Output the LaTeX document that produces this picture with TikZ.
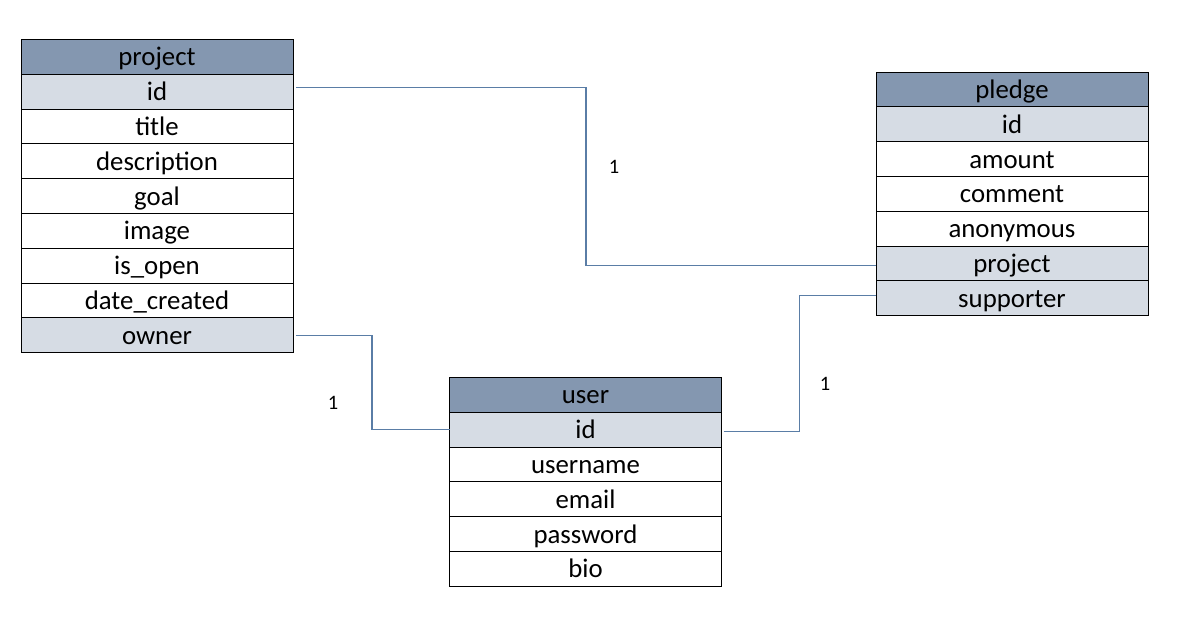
\documentclass[tikz,border=0pt]{standalone}
\usepackage{fontspec}
\setmainfont{Carlito}
\usetikzlibrary{positioning}
\definecolor{hdrfill}{HTML}{8497B0}
\definecolor{keyfill}{HTML}{D6DCE4}
\definecolor{connc}{HTML}{5A7DA6}
\tikzset{
  cell/.style={draw=black, line width=0.9pt, minimum width=272pt, minimum height=34.8pt,
    inner sep=0pt, outer sep=0pt, font=\fontsize{26.8}{27}\selectfont, anchor=north,
    text height=21pt, text depth=3pt},
  hdr/.style={cell, fill=hdrfill},
  keyrow/.style={cell, fill=keyfill},
  plain/.style={cell, fill=white},
  conn/.style={draw=connc, line width=1.1pt},
  card/.style={font=\fontsize{20.5}{21}\selectfont, inner sep=0pt}
}
\begin{document}
\begin{tikzpicture}[x=1pt,y=-1pt]
\useasboundingbox (0,0) rectangle (1192,625);
% project table
\node[hdr] (pj0) at (157,39.5) {project};
\node[keyrow, below=0pt of pj0] (pj1) {id};
\node[plain, below=0pt of pj1] (pj2) {title};
\node[plain, below=0pt of pj2] (pj3) {description};
\node[plain, below=0pt of pj3] (pj4) {goal};
\node[plain, below=0pt of pj4] (pj5) {image};
\node[plain, below=0pt of pj5] (pj6) {is\_open};
\node[plain, below=0pt of pj6] (pj7) {date\_created};
\node[keyrow, below=0pt of pj7] (pj8) {owner};
% pledge table
\node[hdr] (pl0) at (1012,72) {pledge};
\node[keyrow, below=0pt of pl0] (pl1) {id};
\node[plain, below=0pt of pl1] (pl2) {amount};
\node[plain, below=0pt of pl2] (pl3) {comment};
\node[plain, below=0pt of pl3] (pl4) {anonymous};
\node[keyrow, below=0pt of pl4] (pl5) {project};
\node[keyrow, below=0pt of pl5] (pl6) {supporter};
% user table
\node[hdr] (us0) at (585.5,377.5) {user};
\node[keyrow, below=0pt of us0] (us1) {id};
\node[plain, below=0pt of us1] (us2) {username};
\node[plain, below=0pt of us2] (us3) {email};
\node[plain, below=0pt of us3] (us4) {password};
\node[plain, below=0pt of us4] (us5) {bio};
% connectors
\draw[conn] ([xshift=3pt,yshift=4pt]pj1.east) -- ++(290,0) |- ([yshift=-2pt]pl5.west);
\draw[conn] ([xshift=3pt]pj8.east) -- ++(76,0) |- (us1.west);
\draw[conn] ([xshift=2pt,yshift=-2pt]us1.east) -- ++(76,0) |- ([yshift=2.5pt]pl6.west);
% cardinalities
\node[card] (c1) at (614,167) {1};
\node[card] (c2) at (333,403) {1};
\node[card] (c3) at (825,384) {1};
\end{tikzpicture}
\end{document}
